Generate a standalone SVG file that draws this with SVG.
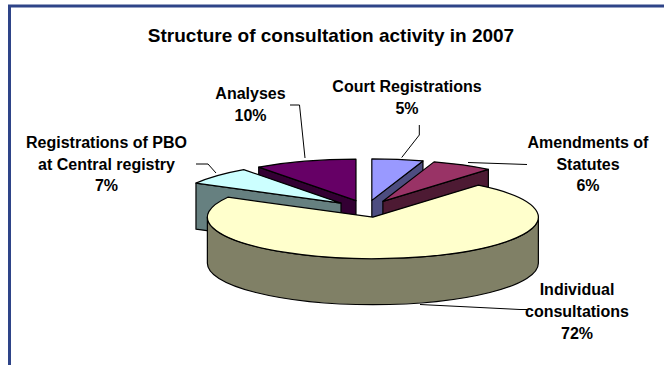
<svg xmlns="http://www.w3.org/2000/svg" width="664" height="365" viewBox="0 0 664 365">
<style>
text{font-family:"Liberation Sans",Arial,sans-serif;font-weight:bold;fill:#000;text-anchor:middle}
.t{font-size:19px}
.l{font-size:16px}
.s{stroke:#000;stroke-width:1.2;stroke-linejoin:round}
.ld{fill:none;stroke:#000;stroke-width:1}
</style>
<rect x="0" y="0" width="664" height="365" fill="#fff"/>
<rect id="frame" x="9.5" y="6" width="700" height="400" fill="none" stroke="#2E4488" stroke-width="3"/>
<text class="t" x="331" y="41.5">Structure of consultation activity in 2007</text>

<g id="analyses">
<path class="s" fill="#330033" d="M355.99,200.69 L258.71,167.12 L258.71,213.12 L355.99,246.69 Z"/>
<path class="s" fill="#660066" d="M355.99,200.69 L258.71,167.12 A165.5,41.5 0 0 1 355.99,159.19 Z"/>
<text class="l" x="250.5" y="98.5">Analyses</text>
<text class="l" x="250.5" y="120.5">10%</text>
</g>

<g id="court">
<path class="s" fill="#4D4D80" d="M371.82,200.38 L422.96,160.91 L422.96,206.91 L371.82,246.38 Z"/>
<path class="s" fill="#9999FF" d="M371.82,200.38 L371.82,158.88 A165.5,41.5 0 0 1 422.96,160.91 Z"/>
<text class="l" x="407" y="91.5">Court Registrations</text>
<text class="l" x="407" y="114">5%</text>
</g>

<g id="amendments">
<path class="s" fill="#4D1A33" d="M382.88,201.33 L488.37,169.35 L488.37,215.35 L382.88,247.33 Z"/>
<path class="s" fill="#993366" d="M382.88,201.33 L434.02,161.86 A165.5,41.5 0 0 1 488.37,169.35 Z"/>
<text class="l" x="588" y="147.5">Amendments of</text>
<text class="l" x="588" y="169.5">Statutes</text>
<text class="l" x="588" y="191">6%</text>
</g>

<g id="pbo">
<path class="s" fill="#668080" d="M341,203.16 L195.97,183.17 L195.97,229.17 L341,249.16 Z"/>
<path class="s" fill="#CCFFFF" d="M341,203.16 L195.97,183.17 A165.5,41.5 0 0 1 243.72,169.59 Z"/>
<text class="l" x="106.5" y="147.5">Registrations of PBO</text>
<text class="l" x="106.5" y="169.5">at Central registry</text>
<text class="l" x="106.5" y="191">7%</text>
</g>

<g id="individual">
<path class="s" fill="#808066" d="M538.37,217.17 A165.5,41.5 0 0 1 207.37,217.17 L207.37,263.17 A165.5,41.5 0 0 0 538.37,263.17 Z"/>
<path class="s" fill="#FFFFCC" d="M372.87,217.17 L478.36,185.19 A165.5,41.5 0 1 1 227.84,197.18 Z"/>
<text class="l" x="577" y="295">Individual</text>
<text class="l" x="577" y="317">consultations</text>
<text class="l" x="577" y="338.5">72%</text>
</g>

<g id="connectors">
<polyline class="ld" points="290,105 299.5,105 305,158"/>
<polyline class="ld" points="419.3,125 419.3,135 401.7,157.5"/>
<polyline class="ld" points="468,162.5 527,164.5"/>
<polyline class="ld" points="196,164 208,164 216,173"/>
<polyline class="ld" points="420,304.5 520,309.5 527,309.5"/>
</g>
</svg>
